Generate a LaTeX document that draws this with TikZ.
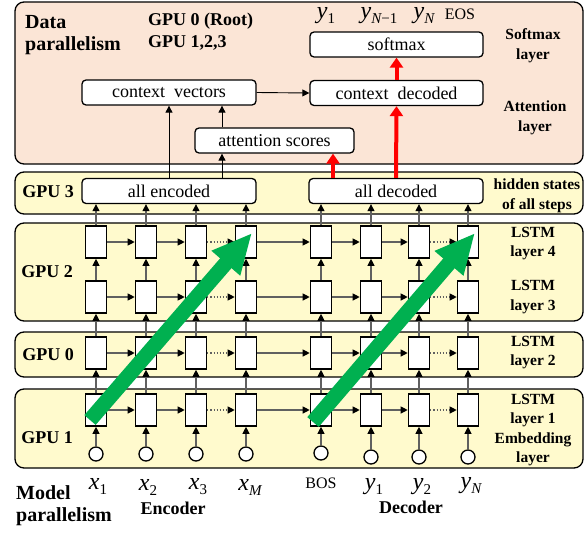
\documentclass[tikz,border=0pt]{standalone}
\usepackage{fontspec}
\setmainfont{Liberation Serif}
\usetikzlibrary{arrows.meta,calc}
\definecolor{peach}{HTML}{FBE5D6}
\definecolor{paleyel}{HTML}{FFFACD}
\definecolor{lgray}{HTML}{606060}
\definecolor{arrgreen}{HTML}{00B050}
\newcommand{\vsub}[2]{{\itshape #1}\raisebox{-5pt}{\fontsize{15}{16}\selectfont #2}}
\begin{document}
\begin{tikzpicture}[x=1pt,y=-1pt,
 panel/.style={draw=black, line width=1.3pt, rounded corners=9pt},
 cell/.style={draw=black, line width=1.6pt, fill=white, minimum width=21pt, minimum height=32pt, inner sep=0pt},
 bar/.style={draw=black, line width=1.3pt, fill=white, rounded corners=4pt, minimum height=25pt, inner sep=0pt, font=\fontsize{18}{20}\selectfont},
 emb/.style={circle, draw=black, line width=1.3pt, fill=white, minimum size=14pt, inner sep=0pt},
 conn/.style={draw=lgray, line width=1.1pt, -{Triangle[length=7pt,width=7pt,black]}},
 dconn/.style={conn, dotted},
 bconn/.style={draw=black, line width=0.9pt, -{Triangle[length=7pt,width=7pt,black]}},
 redarr/.style={draw=red, line width=4pt, -{Triangle[length=10pt,width=13pt]}},
 greenarr/.style={draw=arrgreen, line width=15pt, -{Triangle[length=40pt,width=35pt]}},
 lab/.style={font=\fontsize{18}{20}\selectfont\bfseries, inner sep=0pt},
 biglab/.style={font=\fontsize{20}{22}\selectfont\bfseries, inner sep=0pt, anchor=west},
 rlab/.style={font=\fontsize{15.5}{19.5}\selectfont\bfseries, align=center, inner sep=0pt},
 txt/.style={font=\fontsize{24}{26}\selectfont, inner sep=0pt},
 stxt/.style={font=\fontsize{16}{18}\selectfont, inner sep=0pt},
]
\useasboundingbox (0,0) rectangle (587,533);
% panels
\draw[panel, fill=peach] (15,2) rectangle (583,164);
\draw[panel, fill=paleyel] (15,172) rectangle (583,214);
\draw[panel, fill=paleyel] (15,223) rectangle (583,321);
\draw[panel, fill=paleyel] (15,332) rectangle (583,377);
\draw[panel, fill=paleyel] (15,389) rectangle (583,468);
% cells
\foreach \c/\x in {1/96,2/146,3/196,4/246}{
  \foreach \r/\y in {1/410,2/353,3/297,4/242}{
    \node[cell] (e\c\r) at (\x,\y) {};
  }
  \node[emb] (ce\c) at (\x,454) {};
}
\foreach \c/\x in {1/321,2/371,3/419,4/468}{
  \foreach \r/\y in {1/410,2/353,3/297,4/242}{
    \node[cell] (d\c\r) at (\x,\y) {};
  }
}
\node[emb] (cd1) at (321,453) {};
\node[emb] (cd2) at (371,457) {};
\node[emb] (cd3) at (419,457) {};
\node[emb] (cd4) at (468,457) {};
% bars
\node[bar, minimum width=174pt] (allenc) at (169,191) {all encoded};
\node[bar, minimum width=174pt] (alldec) at (396,191) {all decoded};
\node[bar, minimum width=174pt] (ctxv) at (169,92.5) {context\ \ vectors};
\node[bar, minimum width=159pt] (attn) at (274.5,140.5) {attention scores};
\node[bar, minimum width=173pt] (ctxd) at (396.5,93) {context\ \ decoded};
\node[bar, minimum width=173pt] (smax) at (396.5,44.5) {softmax};
% horizontal connectors
\foreach \r in {1,2,3,4}{
  \draw[conn] (e1\r) -- (e2\r);
  \draw[conn] (e2\r) -- (e3\r);
  \draw[dconn] (e3\r) -- (e4\r);
  \draw[conn] (e4\r) -- (d1\r);
  \draw[conn] (d1\r) -- (d2\r);
  \draw[conn] (d2\r) -- (d3\r);
  \draw[dconn] (d3\r) -- (d4\r);
}
% vertical connectors
\foreach \c in {1,2,3,4}{
  \draw[conn] (ce\c) -- (e\c1);
  \draw[conn] (e\c1) -- (e\c2);
  \draw[conn] (e\c2) -- (e\c3);
  \draw[conn] (e\c3) -- (e\c4);
  \draw[conn] (e\c4.north) -- (e\c4.north |- allenc.south);
  \draw[conn] (cd\c) -- (d\c1);
  \draw[conn] (d\c1) -- (d\c2);
  \draw[conn] (d\c2) -- (d\c3);
  \draw[conn] (d\c3) -- (d\c4);
  \draw[conn] (d\c4.north) -- (d\c4.north |- alldec.south);
}
% attention part
\draw[bconn] (allenc.north) -- (ctxv.south);
\draw[bconn] ([xshift=53pt]allenc.north) -- ([xshift=53pt]allenc.north |- attn.south);
\draw[bconn] ([xshift=53pt]ctxv.south |- attn.north) -- ([xshift=53pt]ctxv.south);
\draw[bconn] (ctxv.east) -- (ctxd.west);
\draw[redarr] ([xshift=-63pt]alldec.north) -- ([xshift=-63pt]alldec.north |- attn.south);
\draw[redarr] (alldec.north) -- (ctxd.south);
\draw[redarr] (ctxd.north) -- (smax.south);
% green arrows
\draw[greenarr] (90,420) -- (252,233);
\draw[greenarr] (313,422) -- (475,233);
% labels
\node[biglab] (dp1) at (25,22) {Data};
\node[biglab] (dp2) at (25,46) {parallelism};
\node[lab, anchor=west] (g0r) at (148,21) {GPU 0 (Root)};
\node[lab, anchor=west] (g123) at (148,43) {GPU 1,2,3};
\node[txt] (ty1) at (326,16) {\vsub{y}{1}};
\node[txt] (tyn1) at (379,16) {\vsub{y}{{\itshape N}−1}};
\node[txt] (tyn) at (424,16) {\vsub{y}{\itshape N}};
\node[stxt] (eos) at (460,14) {EOS};
\node[rlab] (sml) at (533,45.5) {Softmax\\layer};
\node[rlab] (atl) at (535,118) {Attention\\layer};
\node[rlab] (hsl) at (537,196) {hidden states\\of all steps};
\node[rlab] (l4) at (533,243.5) {LSTM\\layer 4};
\node[rlab] (l3) at (533,297) {LSTM\\layer 3};
\node[rlab] (l2) at (533,352.5) {LSTM\\layer 2};
\node[rlab] (l1) at (533,410.5) {LSTM\\layer 1};
\node[rlab] (emb) at (533,449.5) {Embedding\\layer};
\node[lab] (gpu3) at (48,192) {GPU 3};
\node[lab] (gpu2) at (47,272) {GPU 2};
\node[lab] (gpu0) at (48,355) {GPU 0};
\node[lab] (gpu1) at (47,438) {GPU 1};
\node[biglab] (mp1) at (16,493) {Model};
\node[biglab] (mp2) at (16,517) {parallelism};
\node[lab] (encl) at (173,508) {Encoder};
\node[lab] (decl) at (411,507) {Decoder};
\node[txt] (x1) at (98,486) {\vsub{x}{1}};
\node[txt] (x2) at (148,487) {\vsub{x}{2}};
\node[txt] (x3) at (198,487) {\vsub{x}{3}};
\node[txt] (xm) at (250,487) {\vsub{x}{\itshape M}};
\node[stxt] (bos) at (321,483) {BOS};
\node[txt] (y1) at (374,487) {\vsub{y}{1}};
\node[txt] (y2) at (422,487) {\vsub{y}{2}};
\node[txt] (yn) at (471,486) {\vsub{y}{\itshape N}};
\end{tikzpicture}
\end{document}
